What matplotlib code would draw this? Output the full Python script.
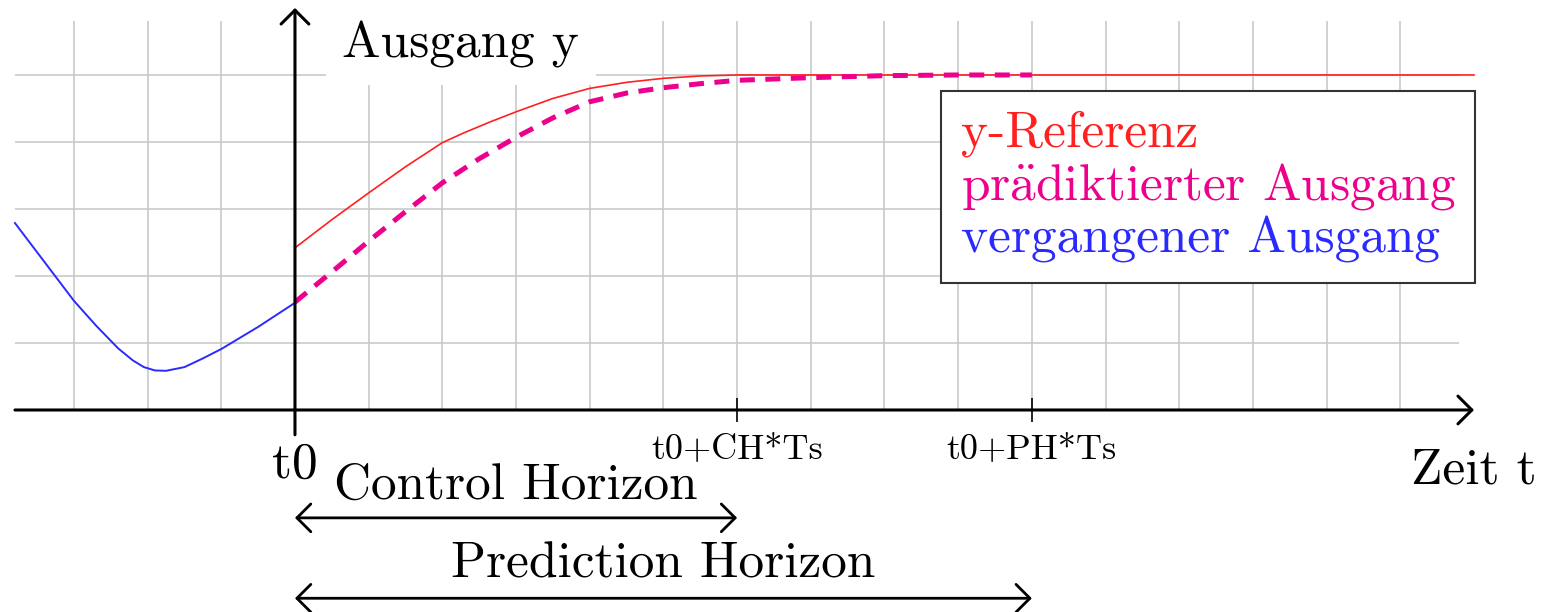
import numpy as np
import matplotlib.pyplot as plt

# values (x in grid units from t0, y in grid units)
ref_t = [0, 0.5, 1, 1.5, 2, 2.3, 2.65, 3, 3.5, 4, 4.5, 5, 5.5, 6, 16]
ref_y = [2.42, 2.84, 3.24, 3.63, 3.99, 4.14, 4.30, 4.45, 4.65, 4.80, 4.89, 4.95, 4.985, 5.0, 5.0]

pred_t = [0, 0.5, 1, 1.5, 2, 2.5, 3, 3.5, 4, 4.5, 5, 5.5, 6, 7, 8, 9, 10]
pred_y = [1.61, 2.06, 2.52, 2.96, 3.39, 3.75, 4.07, 4.36, 4.60, 4.73, 4.81, 4.87, 4.92, 4.96, 4.99, 5.0, 5.0]

past_t = [-3.8, -3.4, -3, -2.7, -2.4, -2.2, -2.05, -1.9, -1.75, -1.5, -1.25, -1, -0.5, 0]
past_y = [2.79, 2.21, 1.63, 1.26, 0.92, 0.74, 0.64, 0.59, 0.585, 0.64, 0.77, 0.91, 1.24, 1.60]

CH = 6
PH = 10

labels = ['y-Referenz', r'pr$\mathrm{\ddot{a}}$diktierter Ausgang', 'vergangener Ausgang']
colors = ['#ff2020', '#ec008c', '#2a2aff']

plt.rcParams['font.family'] = ['cmr10', 'DejaVu Serif']
plt.rcParams['mathtext.fontset'] = 'cm'
plt.rcParams['axes.formatter.use_mathtext'] = True

fig = plt.figure(figsize=(15.44, 6.12), dpi=100)
ax = fig.add_axes([0, 0, 1, 1])
ax.axis('off')
ax.set_xlim(-4.003, 16.95)
ax.set_ylim(-3.015, 6.119)

# help lines grid
gc = '#c9c9c9'
ax.vlines(np.arange(-3, 16), 0, 5.8, color=gc, lw=1.2, zorder=1)
ax.hlines(np.arange(1, 6), -3.8, 15.8, color=gc, lw=1.2, zorder=1)

big = 37
small = 26

ax.text(2.25, 5.45, 'Ausgang y', ha='center', va='center', fontsize=big,
        bbox=dict(fc='white', ec='none', pad=12), zorder=2)

ax.plot(ref_t, ref_y, color=colors[0], lw=1.2, zorder=3, label=labels[0])
ax.plot(pred_t, pred_y, color=colors[1], lw=3.6, ls=(0, (3.0, 2.1)),
        zorder=3, label=labels[1])
ax.plot(past_t, past_y, color=colors[2], lw=1.4, zorder=3, label=labels[2])

arrow = dict(arrowstyle='->,head_length=0.5,head_width=0.5', lw=2.2,
             color='black', shrinkA=0, shrinkB=0, mutation_scale=20)
ax.annotate('', xy=(16.0, 0), xytext=(-3.8, 0), arrowprops=arrow, zorder=4)
ax.annotate('', xy=(0, 6.0), xytext=(0, -0.37), arrowprops=arrow, zorder=4)
ax.vlines([CH, PH], -0.18, 0.18, color='black', lw=1.2, zorder=4)

ax.text(0, -0.82, 't0', ha='center', va='center', fontsize=big)
ax.text(CH, -0.60, 't0+CH*Ts', ha='center', va='center', fontsize=small)
ax.text(PH, -0.60, 't0+PH*Ts', ha='center', va='center', fontsize=small)
ax.text(16.0, -0.90, 'Zeit t', ha='center', va='center', fontsize=big)

harrow = dict(arrowstyle='<->,head_length=0.5,head_width=0.5', lw=2.0,
              color='black', shrinkA=0, shrinkB=0, mutation_scale=20)
ax.annotate('', xy=(CH, -1.61), xytext=(0, -1.61), arrowprops=harrow)
ax.text(CH / 2, -1.13, 'Control Horizon', ha='center', va='center', fontsize=big)
ax.annotate('', xy=(PH, -2.81), xytext=(0, -2.81), arrowprops=harrow)
ax.text(PH / 2, -2.30, 'Prediction Horizon', ha='center', va='center', fontsize=big)

leg = ax.legend(loc='upper right', bbox_to_anchor=(16.02, 4.76),
                bbox_transform=ax.transData, borderaxespad=0,
                handlelength=0, handletextpad=0, labelcolor='linecolor',
                fancybox=False, edgecolor='#333333', framealpha=1,
                fontsize=big, borderpad=0.38, labelspacing=0.08)
leg.get_frame().set_linewidth(1.5)
for h in leg.legend_handles:
    h.set_visible(False)
leg.set_zorder(5)

fig.savefig('out.png', dpi=100)
